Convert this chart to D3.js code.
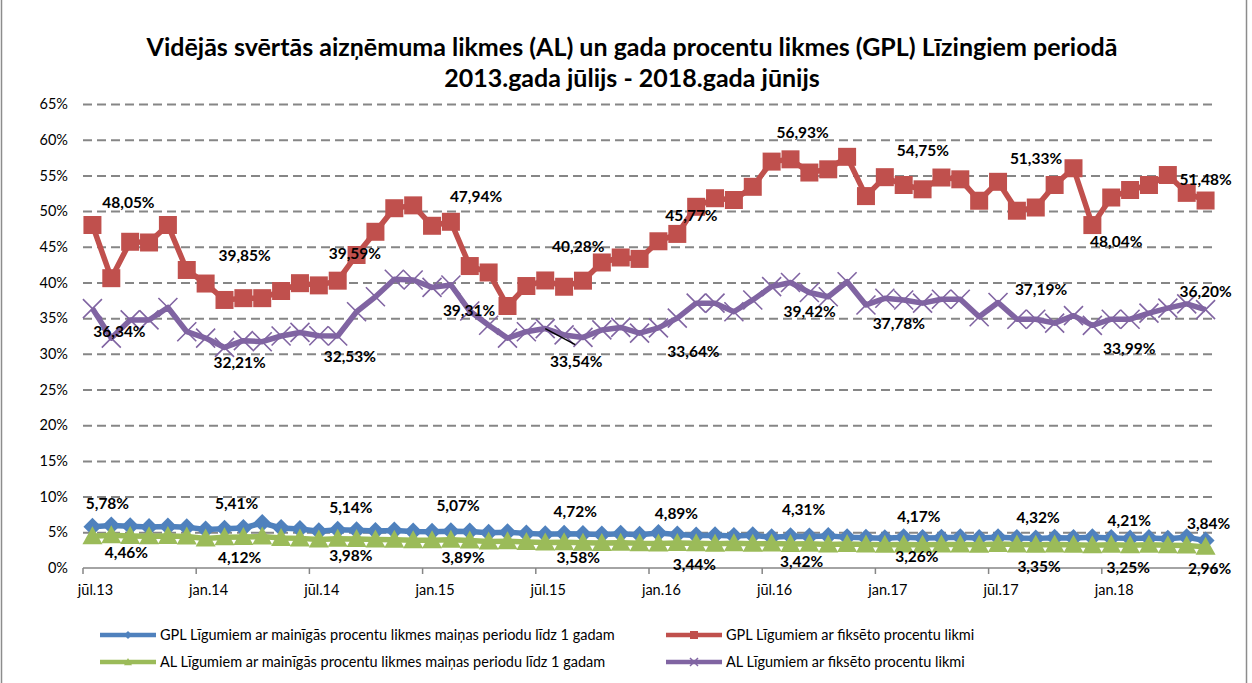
<!DOCTYPE html>
<html lang="lv">
<head>
<meta charset="UTF-8">
<title>AL un GPL Līzingiem</title>
<style>
  body { margin: 0; background: #fff; }
  svg { display: block; font-family: Lato, "Open Sans", sans-serif; }
</style>
</head>
<body>
<svg id="svg" width="1252" height="683"></svg>
<script src="https://d3js.org/d3.v7.min.js"></script>
<script>
// ------ DATA ------------------------
const monthNames = ['jan', 'feb', 'mar', 'apr', 'mai', 'jūn', 'jūl', 'aug', 'sep', 'okt', 'nov', 'dec']
// jūl.13 ... jūn.18
const categories = []
for (let k = 0; k < 60; k++) {
  const m = (6 + k) % 12
  const yr = 13 + Math.floor((6 + k) / 12)
  categories.push(monthNames[m] + '.' + yr)
}
const tickLabels = ['jūl.13', 'jan.14', 'jūl.14', 'jan.15', 'jūl.15', 'jan.16', 'jūl.16', 'jan.17', 'jūl.17', 'jan.18']
const yTicks = [0, 5, 10, 15, 20, 25, 30, 35, 40, 45, 50, 55, 60, 65]

// GPL Līgumiem ar mainīgās procentu likmes maiņas periodu līdz 1 gadam (%)
const gplVariable = [
  5.78, 5.95, 5.85, 5.75, 5.8, 5.7, 5.41, 5.5, 5.6, 6.3,
  5.6, 5.45, 5.14, 5.35, 5.3, 5.2, 5.25, 5.1, 5.07, 5.15,
  5.1, 4.95, 5.0, 4.85, 4.72, 4.8, 4.75, 4.7, 4.8, 4.65,
  4.89, 4.7, 4.55, 4.6, 4.5, 4.6, 4.31, 4.45, 4.4, 4.5,
  4.3, 4.25, 4.17, 4.3, 4.2, 4.25, 4.3, 4.2, 4.32, 4.2,
  4.15, 4.25, 4.2, 4.3, 4.21, 4.15, 4.2, 4.1, 4.3, 3.84
]
// GPL Līgumiem ar fiksēto procentu likmi (%)
const gplFixed = [
  48.05, 40.6, 45.7, 45.6, 48.05, 41.75, 39.85, 37.55, 37.8, 37.8,
  38.8, 39.9, 39.59, 40.25, 43.85, 47.1, 50.4, 50.8, 47.94, 48.5,
  42.3, 41.4, 36.7, 39.5, 40.28, 39.4, 40.25, 42.8, 43.5, 43.3,
  45.77, 46.8, 50.6, 51.8, 51.55, 53.4, 56.93, 57.25, 55.4, 55.85,
  57.6, 52.1, 54.75, 53.65, 53.05, 54.7, 54.45, 51.45, 54.1, 50.05,
  50.5, 53.65, 56.0, 48.04, 51.9, 52.95, 53.65, 55.05, 52.55, 51.48
]
// AL Līgumiem ar mainīgās procentu likmes maiņas periodu līdz 1 gadam (%)
const alVariable = [
  4.46, 4.6, 4.5, 4.45, 4.5, 4.4, 4.12, 4.3, 4.35, 4.4,
  4.2, 4.15, 3.98, 4.1, 4.05, 4.0, 3.95, 3.9, 3.89, 3.95,
  3.85, 3.7, 3.75, 3.65, 3.58, 3.6, 3.55, 3.5, 3.55, 3.45,
  3.44, 3.5, 3.45, 3.4, 3.45, 3.4, 3.42, 3.35, 3.4, 3.3,
  3.35, 3.3, 3.26, 3.3, 3.25, 3.3, 3.3, 3.25, 3.35, 3.3,
  3.25, 3.3, 3.25, 3.2, 3.25, 3.2, 3.25, 3.2, 3.15, 2.96
]
// AL Līgumiem ar fiksēto procentu likmi (%)
const alFixed = [
  36.34, 32.2, 34.75, 34.75, 36.5, 33.1, 32.21, 30.9, 31.85, 31.7,
  32.5, 33.0, 32.53, 32.5, 35.9, 38.0, 40.45, 40.35, 39.31, 39.65,
  36.0, 34.0, 32.2, 33.1, 33.54, 32.65, 32.3, 33.35, 33.7, 32.9,
  33.64, 35.0, 37.1, 37.1, 35.9, 37.55, 39.42, 40.0, 38.6, 38.0,
  40.1, 36.85, 37.78, 37.55, 37.1, 37.65, 37.65, 35.2, 37.19, 34.85,
  34.85, 34.3, 35.35, 33.99, 34.85, 34.85, 35.7, 36.4, 37.0, 36.2
]

// data labels: [category index, text]
const gplVariableLabels = [[0, '5,78%'], [6, '5,41%'], [12, '5,14%'], [18, '5,07%'], [24, '4,72%'], [30, '4,89%'], [36, '4,31%'], [42, '4,17%'], [48, '4,32%'], [54, '4,21%'], [59, '3,84%']]
const gplFixedLabels = [[0, '48,05%'], [6, '39,85%'], [12, '39,59%'], [18, '47,94%'], [24, '40,28%'], [30, '45,77%'], [36, '56,93%'], [42, '54,75%'], [48, '51,33%'], [54, '48,04%'], [59, '51,48%']]
const alVariableLabels = [[0, '4,46%'], [6, '4,12%'], [12, '3,98%'], [18, '3,89%'], [24, '3,58%'], [30, '3,44%'], [36, '3,42%'], [42, '3,26%'], [48, '3,35%'], [54, '3,25%'], [59, '2,96%']]
const alFixedLabels = [[0, '36,34%'], [6, '32,21%'], [12, '32,53%'], [18, '39,31%'], [24, '33,54%'], [30, '33,64%'], [36, '39,42%'], [42, '37,78%'], [48, '37,19%'], [54, '33,99%'], [59, '36,20%']]

// ------ LAYOUT ------------------------
const plot = { left: 83, right: 1215, top: 104, bottom: 568 }
const colors = { blue: '#4f81bd', red: '#c0504d', green: '#9bbb59', purple: '#8064a2' }

// label offsets from the point (dx, dy) as placed on the original chart
const gplVariableOffsets = [[15, -23], [31, -26], [32, -24], [26, -26], [30, -23], [18, -20], [32, -28], [34, -22], [40, -20], [18, -18], [3, -17]]
const gplFixedOffsets = [[36, -23], [39, -28], [36, -32], [44, -29], [33, -34], [33, -26], [31, -29], [38, -27], [38, -43], [5, 16], [0, -21]]
const alVariableOffsets = [[34, 16], [34, 19], [32, 16], [31, 17], [33, 15], [36, 21], [30, 18], [32, 12], [41, 22], [17, 23], [4, 22]]
const alFixedOffsets = [[27, 23], [34, 24], [31, 21], [37, 23], [31, 33], [35, 24], [38, 25], [14, 25], [43, -13], [18, 23], [0, -18]]

// ------ SCALES ------------------------
const xscale = d3.scaleBand()
  .domain(categories)
  .range([plot.left, plot.right])
  .padding(0)
const xc = c => xscale(c) + xscale.bandwidth() / 2
const yscale = d3.scaleLinear()
  .domain([0, 65])
  .range([plot.bottom, plot.top])

const svg = d3.select('#svg')

// chart area border
svg.append('rect')
  .attr('x', 1.5).attr('y', -5)
  .attr('width', 1245).attr('height', 700)
  .attr('fill', 'none').attr('stroke', '#8c8c8c').attr('stroke-width', 1.5)

// ------ TITLE ------------------------
const title = svg.append('text')
  .attr('text-anchor', 'middle')
  .attr('font-weight', 'bold')
  .attr('font-size', 25)
  .attr('fill', '#000')
title.append('tspan').attr('x', 632).attr('y', 56)
  .text('Vidējās svērtās aizņēmuma likmes (AL) un gada procentu likmes (GPL) Līzingiem periodā')
title.append('tspan').attr('x', 632).attr('y', 87)
  .text('2013.gada jūlijs - 2018.gada jūnijs')

// ------ GRID + AXES ------------------------
const leftAxis = d3.axisLeft(yscale)
  .tickValues(yTicks)
  .tickSize(-(plot.right - plot.left - 3))
  .tickPadding(15)
  .tickFormat(d => d + '%')
const gy = svg.append('g')
  .attr('transform', `translate(${plot.left}, 0)`)
  .call(leftAxis)
gy.select('.domain').remove()
gy.selectAll('.tick line')
  .attr('stroke', '#868686')
  .attr('stroke-width', 2)
  .attr('stroke-dasharray', '9,5')
  .filter(d => d === 0).remove()
gy.selectAll('.tick text')
  .attr('font-family', 'Lato, sans-serif')
  .attr('font-size', 14.5)
  .attr('fill', '#000')

// x axis line with ticks between categories every 6 months
const gx = svg.append('g')
svg.append('line')
  .attr('x1', plot.left).attr('x2', plot.right)
  .attr('y1', plot.bottom).attr('y2', plot.bottom)
  .attr('stroke', '#868686').attr('stroke-width', 1.5)
gx.selectAll('line.tk')
  .data(categories.filter((c, i) => i % 6 === 0).concat(['end']))
  .join('line')
  .attr('class', 'tk')
  .attr('x1', d => d === 'end' ? plot.right : xscale(d))
  .attr('x2', d => d === 'end' ? plot.right : xscale(d))
  .attr('y1', plot.bottom).attr('y2', plot.bottom + 6)
  .attr('stroke', '#868686').attr('stroke-width', 1.5)
gx.selectAll('text')
  .data(tickLabels)
  .join('text')
  .attr('x', d => xc(d) + 3)
  .attr('y', plot.bottom + 27)
  .attr('text-anchor', 'middle')
  .attr('font-size', 14.5)
  .attr('fill', '#000')
  .text(d => d)

// ------ SERIES ------------------------
const series = [
  { values: gplVariable, color: colors.blue, marker: 'diamond', labels: gplVariableLabels, offsets: gplVariableOffsets },
  { values: gplFixed, color: colors.red, marker: 'square', labels: gplFixedLabels, offsets: gplFixedOffsets },
  { values: alVariable, color: colors.green, marker: 'triangle', labels: alVariableLabels, offsets: alVariableOffsets },
  { values: alFixed, color: colors.purple, marker: 'x', labels: alFixedLabels, offsets: alFixedOffsets }
]

const line = d3.line()
  .x((d, i) => xc(categories[i]))
  .y(d => yscale(d))

function markerPath(type, s) {
  const h = s / 2
  if (type === 'diamond') return `M0,${-h}L${h},0L0,${h}L${-h},0Z`
  if (type === 'square') return `M${-h},${-h}H${h}V${h}H${-h}Z`
  if (type === 'triangle') return `M0,${-h}L${h},${h * 0.8}L${-h},${h * 0.8}Z`
  return `M${-h},${-h}L${h},${h}M${-h},${h}L${h},${-h}`
}
const markerSize = { diamond: 18, square: 18, triangle: 20, x: 19 }

series.forEach(s => {
  const g = svg.append('g')
  g.append('path')
    .datum(s.values)
    .attr('d', line)
    .attr('fill', 'none')
    .attr('stroke', s.color)
    .attr('stroke-width', 5.5)
    .attr('stroke-linejoin', 'round')
  g.selectAll('path.mk')
    .data(s.values)
    .join('path')
    .attr('class', 'mk')
    .attr('transform', (d, i) => `translate(${xc(categories[i])},${yscale(d)})`)
    .attr('d', markerPath(s.marker, markerSize[s.marker]))
    .attr('fill', s.marker === 'x' ? 'none' : s.color)
    .attr('stroke', s.marker === 'x' ? s.color : 'none')
    .attr('stroke-width', 1.6)
})

// leader line for the 33,54% label
svg.append('line')
  .attr('x1', xc(categories[24])).attr('y1', yscale(33.54))
  .attr('x2', xc(categories[24]) + 30).attr('y2', yscale(33.54) + 16)
  .attr('stroke', '#000').attr('stroke-width', 1.3)

// ------ DATA LABELS ------------------------
series.forEach(s => {
  svg.append('g')
    .selectAll('text')
    .data(s.labels)
    .join('text')
    .attr('x', (d, k) => xc(categories[d[0]]) + s.offsets[k][0])
    .attr('y', (d, k) => yscale(parseFloat(d[1].replace(',', '.'))) + s.offsets[k][1])
    .attr('dy', '0.36em')
    .attr('text-anchor', 'middle')
    .attr('font-weight', 'bold')
    .attr('font-size', 15.5)
    .attr('fill', '#000')
    .text(d => d[1])
})

// ------ LEGEND ------------------------
const legendItems = [
  { name: 'GPL Līgumiem ar mainīgās procentu likmes maiņas periodu līdz 1 gadam', color: colors.blue, marker: 'diamond', x: 100, y: 635 },
  { name: 'GPL Līgumiem ar fiksēto procentu likmi', color: colors.red, marker: 'square', x: 666, y: 635 },
  { name: 'AL Līgumiem ar mainīgās procentu likmes maiņas periodu līdz 1 gadam', color: colors.green, marker: 'triangle', x: 100, y: 662 },
  { name: 'AL Līgumiem ar fiksēto procentu likmi', color: colors.purple, marker: 'x', x: 666, y: 662 }
]
const lg = svg.append('g').selectAll('g')
  .data(legendItems)
  .join('g')
  .attr('transform', d => `translate(${d.x},${d.y})`)
lg.append('line')
  .attr('x1', 0).attr('x2', 56)
  .attr('stroke', d => d.color).attr('stroke-width', 4.5)
lg.append('path')
  .attr('transform', 'translate(28,0)')
  .attr('d', d => markerPath(d.marker, 8))
  .attr('fill', d => d.marker === 'x' ? 'none' : d.color)
  .attr('stroke', d => d.marker === 'x' ? d.color : 'none')
  .attr('stroke-width', 1.5)
lg.append('text')
  .attr('x', 60)
  .attr('dy', '0.35em')
  .attr('font-size', 14.5)
  .attr('fill', '#000')
  .text(d => d.name)
</script>
</body>
</html>
